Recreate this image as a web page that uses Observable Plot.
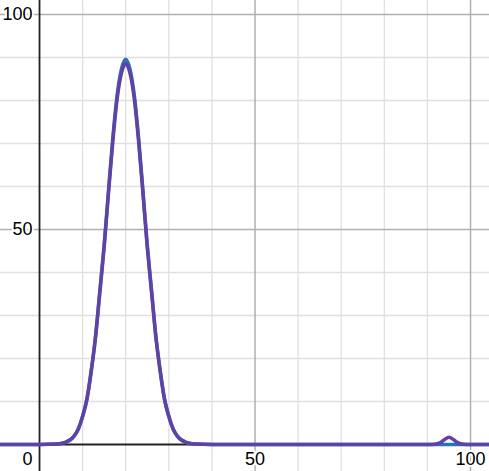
<!DOCTYPE html>
<html>
<head>
<meta charset="utf-8">
<script src="https://cdn.jsdelivr.net/npm/d3@7"></script>
<script src="https://cdn.jsdelivr.net/npm/@observablehq/plot@0.6"></script>
<style>
  html, body { margin: 0; padding: 0; background: #fff; }
  svg { display: block; }
</style>
</head>
<body>
<div id="chart"></div>
<script>
// Sample x positions
const xs = [-10, 0, 4, 6, 8, 9, 10, 11, 12, 13, 14, 15, 16, 17, 18, 19, 20, 21, 22, 23, 24, 25, 26, 27, 28, 29, 30, 31, 32, 34, 36, 40, 50, 60, 70, 80, 88, 90, 91, 92, 93, 94, 95, 96, 97, 98, 99, 100, 102, 106];
// Blue series (estimated heights)
const blueY = [0, 0, 0.1, 0.5, 1.9, 3.6, 6.6, 10.6, 17.2, 25.2, 35.8, 46.4, 59, 71.2, 81.2, 87.3, 89.6, 87.3, 81.2, 71.2, 59, 46.4, 35.8, 25.2, 17.2, 10.6, 6.6, 3.6, 1.9, 0.5, 0.1, 0, 0, 0, 0, 0, 0, 0, 0, 0, 0, 0, 0, 0, 0, 0, 0, 0, 0, 0];
// Purple series (estimated heights)
const purpleY = [0, 0, 0.1, 0.5, 1.9, 3.6, 6.5, 10.5, 17.0, 24.9, 35.4, 45.9, 58.4, 70.4, 80.3, 86.3, 88.6, 86.3, 80.3, 70.4, 58.4, 45.9, 35.4, 24.9, 17.0, 10.5, 6.5, 3.6, 1.9, 0.5, 0.1, 0, 0, 0, 0, 0, 0, 0, 0, 0.1, 0.45, 1.15, 1.7, 1.15, 0.45, 0.1, 0, 0, 0, 0];

// Grid and tick values
const minorTicks = [-10, 10, 20, 30, 40, 60, 70, 80, 90];
const majorTicks = [50, 100];
const xLabels = [50, 100];
const yLabels = [50, 100];
const originLabel = ["0"];

const blueData = xs.map((x, i) => ({x, y: blueY[i]}));
const purpleData = xs.map((x, i) => ({x, y: purpleY[i]}));

const chart = Plot.plot({
  width: 489,
  height: 471,
  margin: 0,
  x: {domain: [-9.05, 104.4], axis: null},
  y: {domain: [-6.28, 103.26], axis: null},
  style: {fontFamily: "'Liberation Sans', Arial, sans-serif", fontSize: "18px", background: "#fff"},
  marks: [
    Plot.ruleX(minorTicks, {stroke: "#e0e0e0", strokeWidth: 1.3}),
    Plot.ruleY(minorTicks, {stroke: "#e0e0e0", strokeWidth: 1.3}),
    Plot.ruleX(majorTicks, {stroke: "#b0b0b0", strokeWidth: 1.5}),
    Plot.ruleY(majorTicks, {stroke: "#b0b0b0", strokeWidth: 1.5}),
    Plot.ruleX([0], {stroke: "#222", strokeWidth: 1.8}),
    Plot.ruleY([0], {stroke: "#222", strokeWidth: 1.8}),
    Plot.line(blueData, {x: "x", y: "y", stroke: "#2d70b3", strokeWidth: 3.5, curve: "monotone-x"}),
    Plot.line(purpleData, {x: "x", y: "y", stroke: "#6042a6", strokeWidth: 3.5, curve: "monotone-x"}),
    Plot.text(xLabels, {x: d => d, y: 0, text: d => String(d), textAnchor: "middle", lineAnchor: "top", dy: 8, fill: "#000", stroke: "white", strokeWidth: 4, paintOrder: "stroke"}),
    Plot.text(yLabels, {x: 0, y: d => d, text: d => String(d), textAnchor: "end", lineAnchor: "middle", dx: -7, fill: "#000", stroke: "white", strokeWidth: 4, paintOrder: "stroke"}),
    Plot.text(originLabel, {x: 0, y: 0, text: d => d, textAnchor: "end", lineAnchor: "top", dx: -7, dy: 8, fill: "#000", stroke: "white", strokeWidth: 4, paintOrder: "stroke"})
  ]
});
document.getElementById("chart").appendChild(chart);
</script>
</body>
</html>
